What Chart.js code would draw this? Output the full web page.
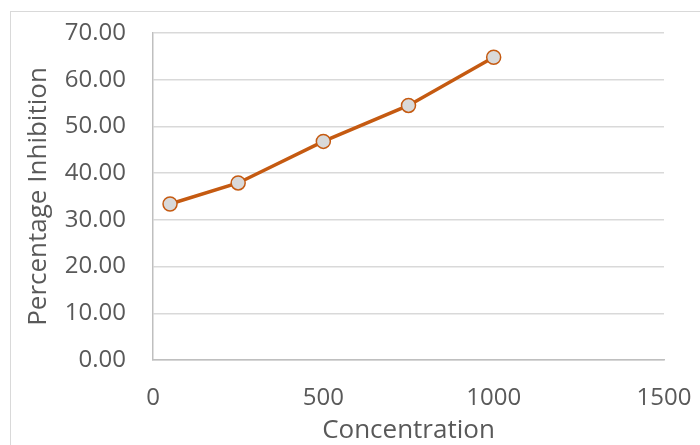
<!DOCTYPE html>
<html>
<head>
<meta charset="utf-8">
<script src="https://cdn.jsdelivr.net/npm/chart.js@4"></script>
<style>
  html, body { margin: 0; padding: 0; background: #fff; overflow: hidden; }
  #frame { position: absolute; left: 10px; top: 11px; width: 720px; height: 460px; border: 1px solid #d9d9d9; }
  #chart { position: absolute; left: 0; top: 0; }
</style>
</head>
<body>
<div id="frame"></div>
<canvas id="chart" width="700" height="445"></canvas>
<script>
const concentrations = [50, 250, 500, 750, 1000];
const inhibition = [33.4, 37.9, 46.8, 54.5, 64.8];
const xRange = { min: 0, max: 1500, step: 500 };
const yRange = { min: 0, max: 70, step: 10 };

const textColor = '#595959';
const fontFamily = '"Open Sans", sans-serif';

// tick padding feeds into the chart area inset, so the label offsets are done with lineHeight instead
new Chart(document.getElementById('chart'), {
  type: 'line',
  data: {
    datasets: [{
      label: 'Percentage Inhibition',
      data: concentrations.map((c, i) => ({ x: c, y: inhibition[i] })),
      borderColor: '#c55a11',
      borderWidth: 3.5,
      backgroundColor: '#d9d9d9',
      pointBackgroundColor: '#d9d9d9',
      pointBorderColor: '#c55a11',
      pointBorderWidth: 1.5,
      pointRadius: 7,
      tension: 0
    }]
  },
  options: {
    responsive: false,
    animation: false,
    layout: { padding: { top: 33, right: 36, bottom: 0, left: 0 } },
    plugins: { legend: { display: false }, tooltip: { enabled: false } },
    scales: {
      x: {
        type: 'linear',
        min: xRange.min, max: xRange.max,
        afterFit: (s) => { s.height = 85; },
        grid: { color: 'transparent', drawTicks: false },
        border: { display: true, color: '#bfbfbf', width: 1.5 },
        ticks: { stepSize: xRange.step, padding: 0, color: textColor, font: { family: fontFamily, size: 24, lineHeight: 76 / 24 }, callback: (v) => String(v) },
        title: { display: true, text: 'Concentration', color: textColor, padding: { top: 0, bottom: 0 }, font: { family: fontFamily, size: 26, lineHeight: 1.1 } }
      },
      y: {
        min: yRange.min, max: yRange.max,
        afterFit: (s) => { s.width = 153; },
        grid: { color: '#d9d9d9', lineWidth: 1.5, drawTicks: false },
        border: { display: true, color: '#bfbfbf', width: 1.5 },
        ticks: { stepSize: yRange.step, padding: 27, color: textColor, font: { family: fontFamily, size: 24, lineHeight: 0.4 }, callback: (v) => v.toFixed(2) },
        title: { display: true, text: 'Percentage Inhibition', color: textColor, padding: { top: 23, bottom: 0 }, font: { family: fontFamily, size: 26, lineHeight: 1.2 } }
      }
    }
  }
});
</script>
</body>
</html>
